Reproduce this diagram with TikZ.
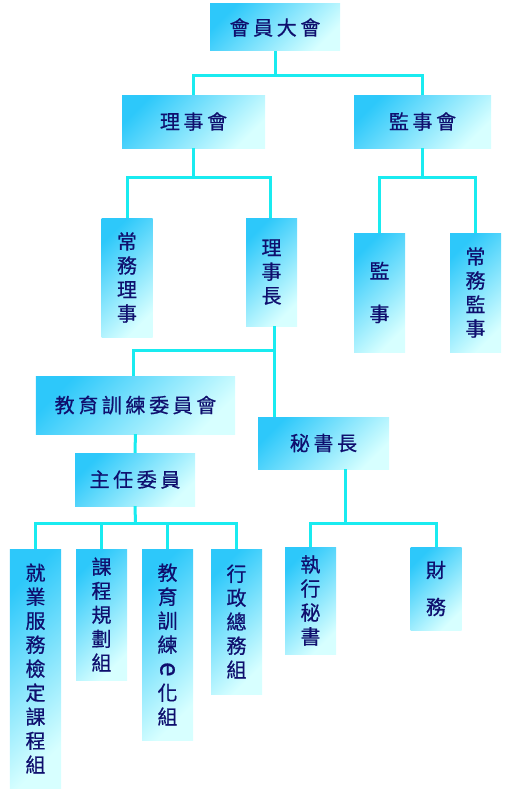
\documentclass[tikz,border=0pt]{standalone}
\usepackage{fontspec}
\newfontfamily\cjk[FakeBold=0.6]{Noto Sans CJK TC}
\newfontfamily\cjkwide[LetterSpace=18,FakeBold=0.6]{Noto Sans CJK TC}
\usepackage{tikz}
\usetikzlibrary{positioning, calc}

\definecolor{boxdark}{RGB}{45,200,250}
\definecolor{boxlight}{RGB}{215,255,255}
\definecolor{linkcol}{RGB}{25,235,240}
\definecolor{textnavy}{RGB}{15,15,110}

\begin{document}
\begin{tikzpicture}[
                x=1bp, y=-1bp,
                box/.style  ={inner sep=0pt, top color=boxdark, bottom color=boxlight,
                        shading angle=45, text=textnavy,
                        font=\fontsize{20bp}{24bp}\selectfont\cjkwide},
                vbox/.style ={box, align=center, minimum width=51bp,
                        font=\fontsize{20bp}{24bp}\selectfont\cjk},
                link/.style ={draw=linkcol, line width=3bp}
            ]
            \useasboundingbox (0,0) rectangle (509,793);

            %% ---- TOP: general assembly and the two councils ------------------
            \node[box, minimum width=130bp, minimum height=47bp] (hall) at (275,27.5) {會員大會};
            \node[box, minimum width=143bp, minimum height=53bp] (board) at (193.5,121.5) {理事會};
            \node[box, minimum width=137bp, minimum height=53bp] (super) at (422.5,121.5) {監事會};

            %% ---- second row: vertical posts ----------------------------------
            \node[vbox, minimum height=119bp] (standing) at (127,277.5) {常\\務\\理\\事};
            \node[vbox, minimum height=108bp] (chair) at (271.5,272) {理\\事\\長};
            \node[vbox, minimum height=119bp] (sup) at (379.5,292.5) {監\\[19bp]事};
            \node[vbox, minimum height=119bp] (stsup) at (475.5,292.5) {常\\務\\監\\事};

            %% ---- training committee and secretariat --------------------------
            \node[box, minimum width=199bp, minimum height=58bp] (edu) at (135.5,405) {教育訓練委員會};
            \node[box, minimum width=120bp, minimum height=53bp] (dir) at (135,479.5) {主任委員};
            \node[box, minimum width=131bp, minimum height=52bp] (sec) at (323.5,443) {秘書長};

            %% ---- bottom row: groups ------------------------------------------
            \node[vbox, minimum height=239bp] (g1) at (35.5,668.5) {就\\業\\服\\務\\檢\\定\\課\\程\\組};
            \node[vbox, minimum height=131bp] (g2) at (101.5,614.5) {課\\程\\規\\劃\\組};
            \node[vbox, minimum height=191bp] (g3) at (167.5,644.5)
                {教\\育\\訓\\練\\\rotatebox[origin=c]{-90}{\fontsize{26bp}{24bp}\selectfont e}\\化\\組};
            \node[vbox, minimum height=145bp] (g4) at (236.5,621.5) {行\\政\\總\\務\\組};
            \node[vbox, minimum height=107bp] (exec) at (310.5,600.5) {執\\行\\秘\\書};
            \node[vbox, minimum height=83bp] (fin) at (436,588.5) {財\\[13bp]務};

            %% ---- connectors --------------------------------------------------
            \coordinate (jtop) at (275,75);
            \draw[link] (hall.south) -- (jtop);
            \draw[link] (jtop) -| (board.north);
            \draw[link] (jtop) -| (super.north);

            \coordinate (jboard) at (193.5,177);
            \draw[link] (board.south) -- (jboard);
            \draw[link] (jboard) -| (standing.north);
            \draw[link] (jboard) -| ([xshift=-1.5bp]chair.north);

            \coordinate (jsuper) at (422.5,177);
            \draw[link] (super.south) -- (jsuper);
            \draw[link] (jsuper) -| (sup.north);
            \draw[link] (jsuper) -| (stsup.north);

            \coordinate (jchair) at (274,350);
            \draw[link] (chair.south -| jchair) -- (sec.north -| jchair);
            \draw[link] (jchair) -| ([xshift=-2bp]edu.north);

            \draw[link] (edu) -- (dir);

            \coordinate (jdir) at (135.5,523);
            \draw[link] (dir.south) -- (jdir);
            \foreach \g in {g1,g2,g3,g4}
                \draw[link] (jdir) -| (\g.north);

            \coordinate (jsec) at (345,523);
            \draw[link] (sec.south -| jsec) -- (jsec);
            \draw[link] (jsec) -| (exec.north);
            \draw[link] (jsec) -| (fin.north);

        \end{tikzpicture}
\end{document}
